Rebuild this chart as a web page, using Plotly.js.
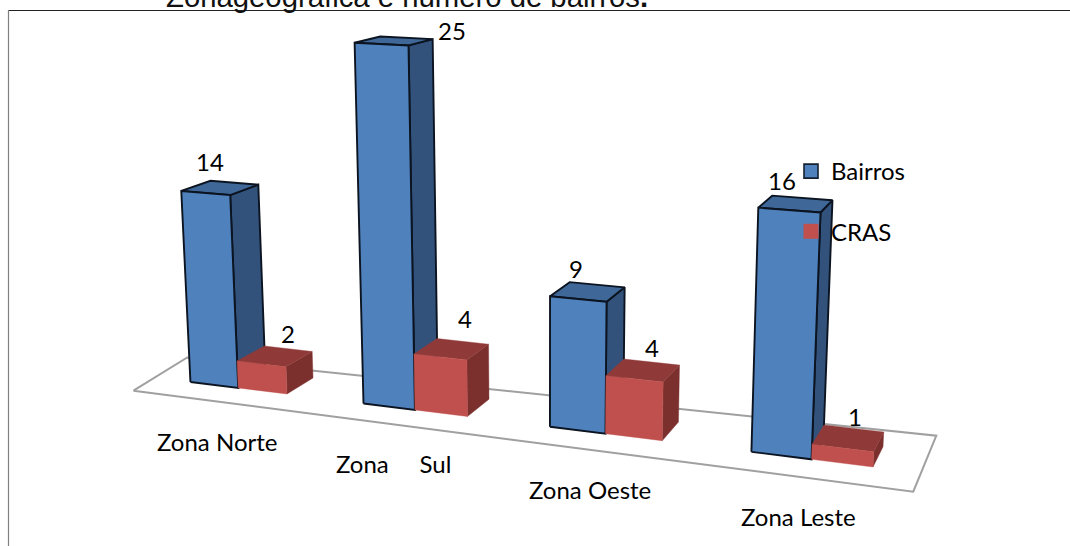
<!DOCTYPE html>
<html><head><meta charset="utf-8">
<script src="https://cdn.plot.ly/plotly-3.0.1.min.js"></script>
<style>html,body{margin:0;padding:0;background:#fff;overflow:hidden}</style>
</head><body><div id="chart" style="width:1070px;height:546px"></div>
<script>
const categories = ["Zona Norte", "Zona\u00A0\u00A0\u00A0\u00A0\u00A0Sul", "Zona Oeste", "Zona Leste"];
const bairros = [14, 25, 9, 16];
const cras = [2, 4, 4, 1];
const seriesNames = ["Bairros", "CRAS"];
const titleText = "Zonageográfica e número de bairros<b>.</b>";

// label nudges (px) relative to the projected anchor
const catNudgeX = [-21, -21, -15.5, -13.5], catNudgeY = [54, 54, 56, 57];
const bairrosNudgeX = [-9, 60, -10, -12], bairrosNudgeY = [-26, -10, -23, -23];
const crasNudgeX = [12, 12, 7, 5], crasNudgeY = [-23, -31, -23, -22];

const blue = {front:"#4F81BD", top:"#3F6797", side:"#32527B", line:"#0b1420", lw:1.9};
const red = {front:"#C0504D", top:"#8F3A38", side:"#7B302E", line:null, lw:0};
const font = "Lato, 'Open Sans', sans-serif";

// floor corners in camera coordinates (t, depth)
const floorT = [0.02, 4, 4, -0.03, 0.02];
const floorD = [-0.8, -0.85, 1.85, 1.3, -0.8];

// Oblique camera: (t along categories, d depth, z value) -> page position
function project(t, d, z) {
  const s = (t - 0.7835) / 3;
  const X = 490 * s + 35.4 * d + 287 - 1 * z;
  const Y = 21.6 * s - 4.7 * d + 394 - 14.28 * z;
  const W = 1 - 0.11 * s + 0.03 * d - 0.001834 * z;
  return [X / W, Y / W];
}
function poly(pts, fill, line, lw) {
  const p = pts.concat([pts[0]]).map(q => project(q[0], q[1], q[2]));
  return {type:"scatter", mode:"lines", x:p.map(a=>a[0]), y:p.map(a=>a[1]), fill:"toself",
    fillcolor:fill, line:{color:line||fill, width:line?lw:0.4, simplify:false},
    showlegend:false, hoverinfo:"skip"};
}
function box(t0, t1, z, c) {
  return [
    poly([[t1,0,0],[t1,1,0],[t1,1,z],[t1,0,z]], c.side, c.line, c.lw),
    poly([[t0,0,z],[t1,0,z],[t1,1,z],[t0,1,z]], c.top, c.line, c.lw),
    poly([[t0,0,0],[t1,0,0],[t1,0,z],[t0,0,z]], c.front, c.line, c.lw)
  ];
}

const traces = [];
const floorPts = floorT.map((t, k) => project(t, floorD[k], 0));
traces.push({type:"scatter", mode:"lines", showlegend:false, hoverinfo:"skip",
  x:floorPts.map(p=>p[0]), y:floorPts.map(p=>p[1]),
  line:{color:"#a0a0a0", width:2}});
const ann = [];
categories.forEach((name, i) => {
  traces.push(...box(i + 0.2165, i + 0.5, bairros[i], blue));
  traces.push(...box(i + 0.5, i + 0.7835, cras[i], red));
  const f = project(i + 0.5, 0, 0);
  ann.push({x:f[0] + catNudgeX[i], y:f[1] + catNudgeY[i], text:name});
  const b = project(i + 0.35, 0.5, bairros[i]);
  ann.push({x:b[0] + bairrosNudgeX[i], y:b[1] + bairrosNudgeY[i], text:String(bairros[i])});
  const r = project(i + 0.65, 0.5, cras[i]);
  ann.push({x:r[0] + crasNudgeX[i], y:r[1] + crasNudgeY[i], text:String(cras[i])});
});
traces.push({type:"scatter", mode:"markers", name:seriesNames[0], legendgroup:"a", x:[null], y:[null],
  marker:{symbol:"square", size:14, color:blue.front, line:{color:"#14202e", width:1.6}}});
traces.push({type:"scatter", mode:"markers", name:seriesNames[1], legendgroup:"b", x:[null], y:[null],
  marker:{symbol:"square", size:15, color:red.front}});

const layout = {
  width:1070, height:546, margin:{l:0,r:0,t:0,b:0}, paper_bgcolor:"#fff", plot_bgcolor:"#fff",
  title:{text:titleText, x:166/1070, xanchor:"left", xref:"paper", y:1-7/546, yanchor:"bottom",
    font:{family:"'Liberation Sans', Arial, sans-serif", size:29.3, color:"#111"}},
  xaxis:{range:[0,1070], visible:false, fixedrange:true},
  yaxis:{range:[546,0], visible:false, fixedrange:true},
  showlegend:true,
  legend:{x:796/1070, y:1-149/546, xanchor:"left", yanchor:"top", bgcolor:"rgba(0,0,0,0)", indentation:-5,
    tracegroupgap:26, font:{family:font, size:24, color:"#000"}},
  annotations:ann.map(a => Object.assign(a, {xref:"x", yref:"y", showarrow:false, xanchor:"center", yanchor:"middle",
    font:{family:font, size:24, color:"#000"}})),
  shapes:[
    {type:"line", xref:"x", yref:"y", x0:8, x1:1070, y0:10.5, y1:10.5, line:{color:"#222", width:1.2}},
    {type:"line", xref:"x", yref:"y", x0:8.5, x1:8.5, y0:10, y1:546, line:{color:"#808080", width:1.2}}
  ]
};
Plotly.newPlot("chart", traces, layout, {displayModeBar:false, staticPlot:true});
</script></body></html>
